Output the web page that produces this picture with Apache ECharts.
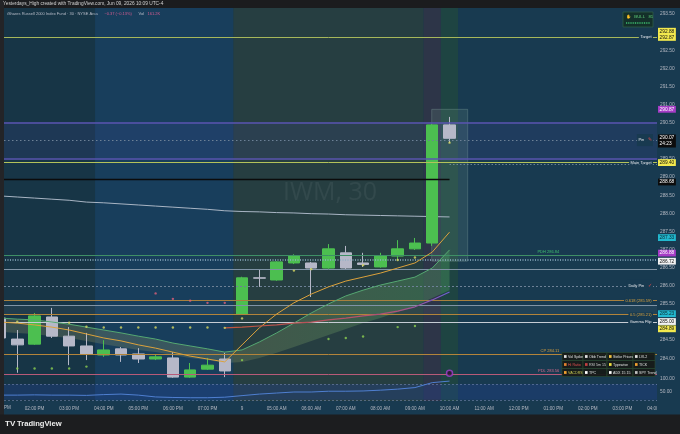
<!DOCTYPE html>
<html><head><meta charset="utf-8">
<script src="https://cdn.jsdelivr.net/npm/echarts@6/dist/echarts.min.js"></script>
<style>html,body{margin:0;padding:0;background:#173850;overflow:hidden}#c{width:680px;height:434px}</style>
</head><body><div id="c"></div>
<script>
// ---------------- data ----------------
// one slot = one 30-minute bar; even slots carry these hour labels
const axisTimeLabels = ['01:00 PM','02:00 PM','03:00 PM','04:00 PM','05:00 PM','06:00 PM','07:00 PM','9',
  '05:00 AM','06:00 AM','07:00 AM','08:00 AM','09:00 AM','10:00 AM','11:00 AM','12:00 PM',
  '01:00 PM','02:00 PM','03:00 PM','04:00 PM'];
const barTimes = ['13:00','13:30','14:00','14:30','15:00','15:30','16:00','16:30','17:00','17:30','18:00','18:30','19:00','19:30',
  '04:00','04:30','05:00','05:30','06:00','06:30','07:00','07:30','08:00','08:30','09:00','09:30','10:00'];
const opens  = [285.11,284.53,284.39,285.14,284.61,284.34,284.09,284.26,284.12,283.98,284.01,283.48,283.70,283.98,285.22,286.22,286.16,286.63,286.63,286.49,286.91,286.63,286.52,286.82,287.02,287.18,290.44];
const closes = [284.56,284.37,285.17,284.61,284.34,284.12,284.23,284.09,283.98,284.04,283.48,283.68,283.81,283.65,286.22,286.21,286.66,286.82,286.49,287.02,286.49,286.59,286.82,287.02,287.18,290.44,290.07];
const lows   = [284.50,283.60,284.37,284.56,283.81,283.95,284.04,283.90,283.87,283.95,283.46,283.46,283.68,283.48,285.20,285.97,286.14,286.60,285.69,286.47,286.44,286.52,286.50,286.71,286.99,287.10,289.94];
const highs  = [285.15,284.78,285.25,285.39,284.86,284.70,284.50,284.31,284.28,284.09,284.17,283.87,284.01,284.15,286.25,286.44,286.68,286.87,286.66,287.15,287.10,286.91,286.91,287.26,287.32,290.47,290.66];

const emaFast  = [285.00,284.97,284.92,284.86,284.78,284.67,284.56,284.48,284.37,284.28,284.17,284.06,283.98,283.90,284.37,284.84,285.22,285.53,285.77,285.97,286.13,286.24,286.35,286.49,286.63,286.93,287.48];
const emaSlow  = [285.11,285.08,285.06,285.00,284.94,284.86,284.78,284.70,284.61,284.53,284.42,284.34,284.26,284.17,284.23,284.45,284.70,284.97,285.25,285.50,285.72,285.88,286.02,286.13,286.24,286.49,286.99];
const cloudLow = [284.73,284.70,284.67,284.61,284.56,284.48,284.39,284.31,284.23,284.17,284.09,284.01,283.95,283.87,283.90,284.01,284.15,284.31,284.48,284.64,284.81,284.97,285.11,285.28,285.44,285.66,285.88];
const smaLong  = [288.48,288.45,288.42,288.39,288.36,288.31,288.29,288.26,288.23,288.20,288.17,288.14,288.11,288.07,288.05,288.04,288.02,288.01,287.99,287.98,287.96,287.95,287.94,287.93,287.92,287.91,287.90];
const vwapStartSlot = 13;
const vwapLine = [284.84,284.86,284.89,284.92,284.97,285.00,285.06,285.11,285.17,285.22,285.30,285.42,285.61,285.83];

const yellowDots = [[1,285.01],[4,284.98],[5,284.87],[6,284.85],[7,284.85],[8,284.85],[9,284.85],[10,284.85],[11,284.85],[12,284.85],[13,284.84],[14,285.10],[17,286.42],[18,286.46],[21,286.57],[23,286.71],[24,286.78],[26,289.95]];
const greenDots  = [[1,283.72],[2,283.72],[3,283.72],[4,283.72],[5,283.77],[14,283.95],[19,284.53],[20,284.56],[21,284.60],[23,284.86],[24,284.89]];
const pinkDots   = [[9,285.79],[10,285.64],[11,285.59],[12,285.53],[13,285.53]];
const signalMarker = [[26,283.59]];

const rsiValues = [38,38,39,38,38,37,40,42,38,31,29,28,28,30,36,42,46,50,50,53,53,54,57,61,67,86,92];
const rsiBands = [20,80];

const sessionBreaks = [0,5.5,13.5,24.5,25.5,26.5,38];
const projectionBox = [24.97,27.05,286.68,290.87];

const levelNames  = ['Target','Range High','Pin','Range Low','Main Target','PDH 286.84','Fair Value','Ref High','Daily Pin','0.618 (285.59)','Ref Low','0.5 (285.21)','Gamma Flip','CP 284.11','PDL 283.56'];
const levelPrices = [292.87,290.51,290.02,289.51,289.40,286.84,286.72,286.46,286.00,285.59,285.47,285.21,285.00,284.11,283.56];
const segmentNames  = ['Prior Close','Alert'];
const segmentPrices = [288.93,289.35];
const segmentFrom   = [0,26];
const segmentTo     = [26,38];

const boxPrices = [292.87,290.87,290.07,289.40,288.93,287.33,286.88,286.72,285.23,285.00,284.89];
const boxTexts  = ['292.88\n292.87','290.87','290.07\n24:23','289.40','288.68','287.33','286.88','286.72','285.23','285.00','284.89'];

const tableCells = [['Vol Spike','Obb Trend','Strike Prices','LVL2'],['Hi Ratio','RSI 5m 15','Typewise','TICK'],['VACDRS','TPC','ADX 15 15','SPY Trend']];

// ---------------- styles ----------------
const BG = '#183a50';
const HIDDEN_LINE = {width:0, color:'rgba(0,0,0,0)'};
const zoneColors = ['#173546','#183e5c','#263e41','#2d3548','#1e4442','#183a50'];
const levelLook = {
  'Target':        {c:'#a6b75a', w:1, label:'right', text:'{w|Target}'},
  'Range High':    {c:'#5a54b0', w:1.6},
  'Pin':           {c:'#6d8196', w:1, t:[1.5,2.5], label:'right', text:'{w|Pin} {r|✎}'},
  'Range Low':     {c:'#5a54b0', w:1.6},
  'Main Target':   {c:'#b4c25a', w:1, label:'right', text:'{w|Main Target}'},
  'PDH 286.84':    {c:'#3f8f66', w:1, label:'mid', text:'{g|PDH 286.84}'},
  'Fair Value':    {c:'#8fb0c4', w:1.6, t:[1,1.5]},
  'Ref High':      {c:'#7f93a5', w:1},
  'Daily Pin':     {c:'#6d8196', w:1, t:[2,2], label:'right', text:'{w|Daily Pin} {r|✓}'},
  '0.618 (285.59)':{c:'#a8803e', w:1, label:'right', text:'{o|0.618 (285.59)}'},
  'Ref Low':       {c:'#7f93a5', w:1},
  '0.5 (285.21)':  {c:'#b3843a', w:1, label:'right', text:'{o|0.5 (285.21)}'},
  'Gamma Flip':    {c:'#c6ccd4', w:1, label:'right', text:'{w|Gamma Flip}'},
  'CP 284.11':     {c:'#b3843a', w:1, label:'mid', text:'{o|CP 284.11}'},
  'PDL 283.56':    {c:'#b85a78', w:1, label:'mid', text:'{p|PDL 283.56}'}
};
const segmentLook = {'Prior Close':{c:'#0b0b0b', w:1.3, t:'solid'}, 'Alert':{c:'#7f93a5', w:0.8, t:[1.5,2]}};
const boxLook = [
  {bg:'#f2e94e', fg:'#111', dy:-2.5}, {bg:'#a63cc6', fg:'#fff', dy:0}, {bg:'#0c0c0c', fg:'#fff', dy:2.7},
  {bg:'#f2e94e', fg:'#111', dy:0}, {bg:'#0c0c0c', fg:'#fff', dy:2.4}, {bg:'#22b8cf', fg:'#0a2a30', dy:0},
  {bg:'#a63cc6', fg:'#fff', dy:-0.8}, {bg:'#f2f2f2', fg:'#111', dy:1.5}, {bg:'#22b8cf', fg:'#0a2a30', dy:0},
  {bg:'#f2f2f2', fg:'#111', dy:-0.5}, {bg:'#f2e94e', fg:'#111', dy:2.8}
];
const richText = {
  w:{color:'#e6e8ec', fontSize:4}, r:{color:'#e04848', fontSize:4.5}, g:{color:'#3fbf6f', fontSize:4},
  o:{color:'#d9a23e', fontSize:4}, p:{color:'#d86a8c', fontSize:4}
};

// ---------------- build ----------------
const candleData = opens.map((o,i)=>[i,o,closes[i],lows[i],highs[i]]);
const toPairs = arr => arr.map((v,i)=>[i,v]);
const VIS_MIN = 282.821, VIS_MAX = 293.666;

const markLineData = [];
levelNames.forEach((name,i)=>{
  const L = levelLook[name], p = levelPrices[i];
  markLineData.push({yAxis:p, lineStyle:{color:L.c, width:L.w, type:L.t||'solid', opacity:1}, label:{show:false}});
  if (L.label === 'right') {
    markLineData.push({yAxis:p, lineStyle:HIDDEN_LINE, label:{show:true, opacity:1, position:'insideEnd', distance:4,
      formatter:L.text, rich:richText, backgroundColor:BG, padding:[0,1.5]}});
  } else if (L.label === 'mid') {
    markLineData.push([{xAxis:0, yAxis:p, lineStyle:HIDDEN_LINE, label:{show:true, opacity:1, position:'insideEndTop', distance:1,
      formatter:L.text, rich:richText}}, {xAxis:32.4, yAxis:p}]);
  }
});
segmentNames.forEach((name,i)=>{
  const S = segmentLook[name];
  markLineData.push([{xAxis:segmentFrom[i], yAxis:segmentPrices[i], lineStyle:{color:S.c, width:S.w, type:S.t}, label:{show:false}},
                     {xAxis:segmentTo[i], yAxis:segmentPrices[i]}]);
});
boxPrices.forEach((p,i)=>{
  const B = boxLook[i];
  markLineData.push({yAxis:p, lineStyle:HIDDEN_LINE, label:{show:true, opacity:1, position:'end', distance:1, formatter:boxTexts[i],
    backgroundColor:B.bg, color:B.fg, fontSize:4.8, lineHeight:6.2, padding:[0.3,1.6], offset:[0,B.dy], align:'left'}});
});

const zoneAreas = [];
for (let i=0;i<sessionBreaks.length-1;i++){
  zoneAreas.push([{xAxis:sessionBreaks[i], yAxis:VIS_MIN, itemStyle:{color:zoneColors[i]}},{xAxis:sessionBreaks[i+1], yAxis:VIS_MAX}]);
}
zoneAreas.push([{xAxis:0, yAxis:levelPrices[3], itemStyle:{color:'rgba(95,85,205,0.11)'}},{xAxis:38, yAxis:levelPrices[1]}]);
zoneAreas.push([{xAxis:0, yAxis:levelPrices[11], itemStyle:{color:'rgba(255,255,255,0.045)'}},{xAxis:38, yAxis:levelPrices[10]}]);
zoneAreas.push([{xAxis:projectionBox[0], yAxis:projectionBox[2], itemStyle:{color:'rgba(130,175,150,0.16)', borderColor:'rgba(150,180,175,0.35)', borderWidth:0.8}},{xAxis:projectionBox[1], yAxis:projectionBox[3]}]);

// legend table graphics
const tableEls = [];
const tX = 562, tY = 352.5, colW = [21,24,26,22], rowH = 8;
const iconCols = [['#e0e0e0','#e0e0e0','#f0c040','#e0e0e0'],['#e08030','#c04040','#f0e040','#f0a030'],['#f0a030','#ffffff','#ffffff','#c0c0c0']];
const textCols = [['#e0e0e0','#e0e0e0','#e0e0e0','#e0e0e0'],['#e05050','#d0d0d0','#e0e0e0','#e0e0e0'],['#c8c850','#e0e0e0','#e0e0e0','#e0e0e0']];
tableCells.forEach((row,r)=>{
  let x = tX;
  row.forEach((txt,c)=>{
    tableEls.push({type:'rect', z:60, shape:{x:x, y:tY+r*rowH, width:colW[c], height:rowH}, style:{fill:'rgba(22,26,24,0.95)', stroke:'#2b4d34', lineWidth:0.6}});
    tableEls.push({type:'rect', z:61, shape:{x:x+2, y:tY+r*rowH+2.6, width:2.6, height:2.8}, style:{fill:iconCols[r][c]}});
    tableEls.push({type:'text', z:61, x:x+6, y:tY+r*rowH+rowH/2, style:{text:txt, fill:textCols[r][c], fontSize:3.6, fontFamily:'Liberation Sans', verticalAlign:'middle'}});
    x += colW[c];
  });
});

const chart = echarts.init(document.getElementById('c'), null, {renderer:'canvas'});
chart.setOption({
  animation:false,
  backgroundColor:BG,
  textStyle:{fontFamily:'Liberation Sans, Arial, sans-serif'},
  grid:[
    {left:0, top:0, width:657, height:412.64, containLabel:false},
    {left:0, top:379, width:657, height:26, containLabel:false}
  ],
  xAxis:[
    {type:'value', gridIndex:0, min:0, max:38, show:false},
    {type:'value', gridIndex:1, min:0, max:38, interval:2,
      axisLine:{show:false}, axisTick:{show:false}, splitLine:{show:false},
      axisLabel:{margin:1, fontSize:4.6, color:'#b4b8c2', showMinLabel:false, formatter:v=>axisTimeLabels[Math.round(v/2)]||''}}
  ],
  yAxis:[
    {type:'value', gridIndex:0, position:'right', min:282.5, max:293.886, interval:0.5,
      axisLine:{show:false}, axisTick:{show:false}, splitLine:{show:false},
      axisLabel:{margin:3, fontSize:4.8, color:'#b4b8c2', showMaxLabel:false, formatter:v=>(v>283.9 && v<293.6)?v.toFixed(2):''}},
    {type:'value', gridIndex:1, position:'right', min:0, max:100, interval:50,
      axisLine:{show:false}, axisTick:{show:false}, splitLine:{show:false},
      axisLabel:{margin:3, fontSize:4.8, color:'#b4b8c2', formatter:v=>v===0?'':v.toFixed(2)}}
  ],
  series:[
    {name:'SMA', type:'line', xAxisIndex:0, yAxisIndex:0, data:toPairs(smaLong), symbol:'none',
      lineStyle:{color:'#a9b5c4', width:1}, z:3,
      markArea:{silent:true, data:zoneAreas}},
    {name:'Cloud', type:'custom', xAxisIndex:0, yAxisIndex:0, data:[[0,285]], z:2,
      renderItem:function(params, api){
        if (params.dataIndex !== 0) return;
        const up = emaSlow.map((p,i)=>api.coord([i,p]));
        const lo = cloudLow.map((p,i)=>api.coord([i,p])).reverse();
        return {type:'polygon', shape:{points:up.concat(lo)}, style:{fill:{type:'linear',x:0,y:0,x2:1,y2:0,
          colorStops:[{offset:0,color:'rgba(150,150,105,0.28)'},{offset:0.5,color:'rgba(140,150,100,0.28)'},{offset:1,color:'rgba(85,175,100,0.32)'}]}}};
      }},
    {name:'Candles', type:'candlestick', xAxisIndex:0, yAxisIndex:0, data:candleData, barWidth:12, z:4,
      itemStyle:{color:'#4cbf50', color0:'#b6b8c8', borderColor:'#4cbf50', borderColor0:'#b6b8c8', borderWidth:1},
      markLine:{silent:true, symbol:['none','none'], animation:false, label:{show:false}, data:markLineData}},
    {name:'EMA slow', type:'line', xAxisIndex:0, yAxisIndex:0, data:toPairs(emaSlow), symbol:'none', z:5,
      lineStyle:{color:'#55a872', width:1}},
    {name:'EMA fast', type:'line', xAxisIndex:0, yAxisIndex:0, data:toPairs(emaFast), symbol:'none', z:5,
      lineStyle:{color:'#dca23c', width:1}},
    {name:'VWAP', type:'line', xAxisIndex:0, yAxisIndex:0, data:vwapLine.map((v,i)=>[vwapStartSlot+i,v]), symbol:'none', z:5,
      lineStyle:{width:1.2, color:{type:'linear',x:0,y:0,x2:1,y2:0,colorStops:[{offset:0,color:'#c0563a'},{offset:0.75,color:'#b0507a'},{offset:1,color:'#6a60d8'}]}}},
    {name:'Dots Y', type:'scatter', xAxisIndex:0, yAxisIndex:0, data:yellowDots, symbolSize:2.4, z:6, itemStyle:{color:'#d8d860'}},
    {name:'Dots G', type:'scatter', xAxisIndex:0, yAxisIndex:0, data:greenDots, symbolSize:2.4, z:6, itemStyle:{color:'#8ccf50'}},
    {name:'Dots P', type:'scatter', xAxisIndex:0, yAxisIndex:0, data:pinkDots, symbolSize:2.4, z:6, itemStyle:{color:'#e0607a'}},
    {name:'Signal', type:'scatter', xAxisIndex:0, yAxisIndex:0, data:signalMarker, symbolSize:6, z:6,
      itemStyle:{color:'#2a1430', borderColor:'#a040d0', borderWidth:1.5}},
    {name:'RSI', type:'line', xAxisIndex:1, yAxisIndex:1, data:toPairs(rsiValues), symbol:'none', z:5,
      lineStyle:{color:'#4f7fd0', width:1},
      markLine:{silent:true, symbol:['none','none'], label:{show:false},
        lineStyle:{color:'rgba(150,160,205,0.55)', type:[2,2], width:0.8},
        data:rsiBands.map(v=>({yAxis:v}))},
      markArea:{silent:true, data:[[{yAxis:rsiBands[0], itemStyle:{color:'rgba(35,70,165,0.28)'}},{yAxis:rsiBands[1]}]]}}
  ],
  graphic:[
    {type:'text', z:1.5, x:330, y:193, style:{text:'IWM, 30', fill:'rgba(255,255,255,0.06)', fontSize:25, fontFamily:'Open Sans', align:'center', verticalAlign:'middle'}},
    {type:'rect', z:100, shape:{x:0,y:0,width:680,height:8}, style:{fill:'#1b1c1e'}},
    {type:'text', z:101, x:3, y:4, style:{text:'Yesterdays_High created with TradingView.com, Jun 09, 2026 10:09 UTC-4', fill:'#d2d2d2', fontSize:4.8, fontFamily:'Liberation Sans', verticalAlign:'middle'}},
    {type:'rect', z:100, shape:{x:0,y:0,width:4,height:415}, style:{fill:'#232427'}},
    {type:'text', z:101, x:4, y:407.5, style:{text:'PM', fill:'#b4b8c2', fontSize:4.6, fontFamily:'Liberation Sans', verticalAlign:'middle'}},
    {type:'rect', z:100, shape:{x:657,y:401.5,width:23,height:13}, style:{fill:BG}},
    {type:'rect', z:100, shape:{x:0,y:414.5,width:680,height:20}, style:{fill:'#1c1d1f'}},
    {type:'text', z:101, x:5, y:424, style:{text:'TV', fill:'#eeeeee', fontSize:8, fontWeight:'bold', fontFamily:'Liberation Sans', verticalAlign:'middle'}},
    {type:'text', z:101, x:17, y:424, style:{text:'TradingView', fill:'#eeeeee', fontSize:7.6, fontWeight:'bold', fontFamily:'Liberation Sans', verticalAlign:'middle'}},
    {type:'text', z:20, x:7, y:13.5, style:{text:'{a|iShares Russell 2000 Index Fund · 30 · NYSE Arca}  {b|−0.37 (−0.13%)}  {a|Vol} {b|161.2K}',
      rich:{a:{fill:'#b8bcc8', fontSize:4}, b:{fill:'#d45c90', fontSize:4}}, fontFamily:'Liberation Sans', verticalAlign:'middle'}},
    {type:'rect', z:20, shape:{x:623,y:12,width:30,height:15}, style:{fill:'#14302a', stroke:'#2f5e48', lineWidth:0.8}},
    {type:'text', z:21, x:626, y:16.5, style:{text:'{i|✋} {g|BULL} {g|81}', rich:{i:{fill:'#f0c040', fontSize:4.2}, g:{fill:'#5ccf7a', fontSize:4.3}}, verticalAlign:'middle', fontFamily:'Liberation Sans'}},
    {type:'line', z:21, shape:{x1:626,y1:23,x2:650,y2:23}, style:{stroke:'#3cc070', lineWidth:1.4, lineDash:[1,0.8]}}
  ].concat(tableEls)
});
</script></body></html>
